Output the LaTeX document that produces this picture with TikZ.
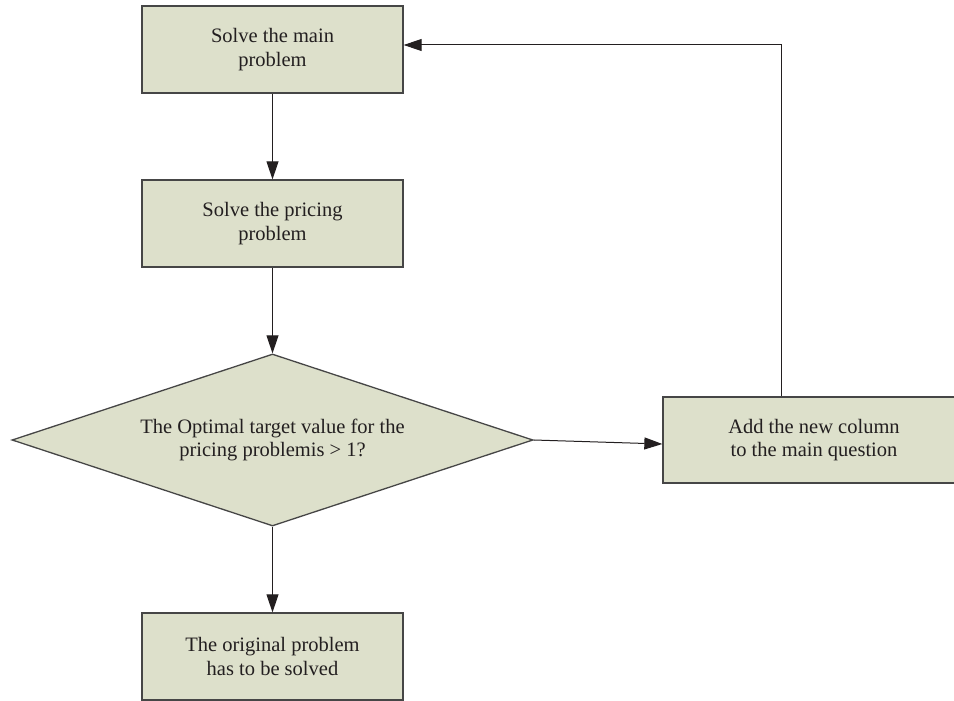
\documentclass[tikz,border=0pt]{standalone}
\usepackage{fontspec}
\setmainfont{Liberation Serif}
\usetikzlibrary{shapes.geometric,arrows.meta,calc}
\definecolor{boxfill}{RGB}{221,224,203}
\definecolor{boxline}{RGB}{70,70,70}
\definecolor{ink}{RGB}{35,31,32}
\begin{document}
\begin{tikzpicture}[x=1pt,y=-1pt,
  every node/.style={font=\fontsize{20.5}{23.5}\selectfont, text=ink},
  stepbox/.style={draw=boxline, fill=boxfill, line width=1.3pt, minimum width=261pt, minimum height=87pt, inner sep=0pt, align=center},
  decision/.style={diamond, draw=boxline, fill=boxfill, line width=1.3pt, minimum width=521pt, minimum height=172pt, inner sep=0pt, shape aspect=3, align=center},
  conn/.style={draw=ink, line width=1pt, -{Triangle[length=18pt,width=12pt]}}]
\useasboundingbox (0,0) rectangle (954,701);
\clip (0,0) rectangle (954,701);
\node[stepbox] (b1) at (272.5,49.5) {Solve the main\\problem};
\node[stepbox] (b2) at (272.5,223.5) {Solve the pricing\\problem};
\node[decision] (d) at (272.5,440) {The Optimal target value for the\\pricing problemis \textgreater{} 1?};
\node[stepbox] (b3) at (272.5,656.5) {The original problem\\has to be solved};
\node[stepbox, minimum width=302pt, minimum height=86pt] (r) at (814,440) {Add the new column\\to the main question};
\draw[conn] (b1.south) -- (b2.north);
\draw[conn] (b2.south) -- (d.north);
\draw[conn] (d.south) -- (b3.north);
\draw[conn] (d.east) -- ([yshift=-4pt]r.west);
\draw[conn] ([xshift=-33pt]r.north) |- ([yshift=4.5pt]b1.east);
\end{tikzpicture}
\end{document}
